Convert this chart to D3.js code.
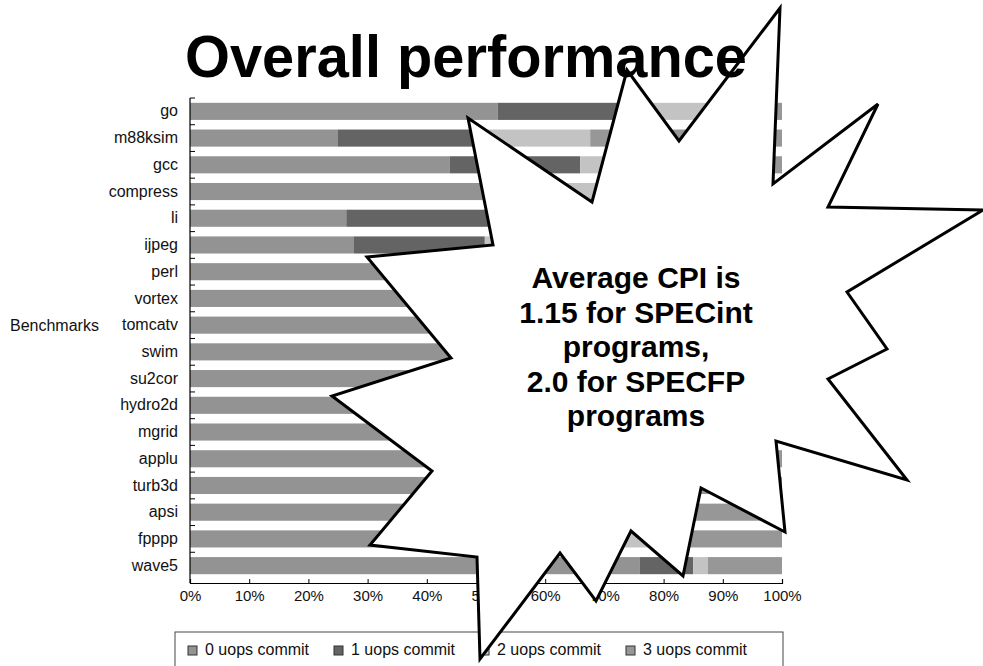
<!DOCTYPE html>
<html>
<head>
<meta charset="utf-8">
<script src="https://cdn.jsdelivr.net/npm/d3@7/dist/d3.min.js"></script>
<style>
  body { margin: 0; background: #fff; }
  svg text { font-family: "Liberation Sans", Arial, Helvetica, sans-serif; }
</style>
</head>
<body>
<div id="chart"></div>
<script>
// benchmarks, top to bottom
var categories = ["go", "m88ksim", "gcc", "compress", "li", "ijpeg", "perl", "vortex",
  "tomcatv", "swim", "su2cor", "hydro2d", "mgrid", "applu", "turb3d", "apsi", "fpppp", "wave5"];

// % of cycles with 0..3 uops committed (hidden parts under the callout are estimates)
var uops0 = [52, 25, 43.9, 59, 26.4, 27.7, 48, 52, 70, 72, 68, 70, 62, 64, 60, 62, 48, 76];
var uops1 = [22.5, 24.8, 22, 2, 25, 22.1, 20, 18, 14, 12, 15, 14, 16, 16, 16, 14, 22, 9];
var uops2 = [21.5, 17.8, 22, 25, 25, 20, 16, 15, 8, 8, 8, 8, 10, 8, 10, 8, 12, 2.5];
var uops3 = [4, 32.4, 12.1, 14, 23.6, 30.2, 16, 15, 8, 8, 9, 8, 12, 12, 14, 16, 18, 12.5];

var seriesKeys = ["u0", "u1", "u2", "u3"];
var legendLabels = ["0 uops commit", "1 uops commit", "2 uops commit", "3 uops commit"];
var xTicks = [0, 10, 20, 30, 40, 50, 60, 70, 80, 90, 100];

var calloutLines = ["Average CPI is", "1.15 for SPECint", "programs,", "2.0 for SPECFP", "programs"];
// outline of the starburst callout (page pixels)
var burst = [[780,8],[773,184],[878,104],[828,207],[983,210],[847,292],[887,349],[828,379],
  [907,480],[776,441],[785,532],[701,488],[683,576],[631,531],[596,601],[560,553],[480,659],
  [477,557],[370,545],[432,471],[332,396],[451,358],[367,257],[493,245],[468,118],[592,202],
  [627,70],[679,141]];

var colors = ["#939393", "#646464", "#c3c3c3", "#979797"];

var W = 983, H = 666;
var margin = {top: 98, right: 201, bottom: 83, left: 190},
    width = W - margin.left - margin.right,
    height = H - margin.top - margin.bottom;

var svg = d3.select("#chart").append("svg")
    .attr("width", W)
    .attr("height", H);

var data = categories.map(function(c, i) {
  return {name: c, u0: uops0[i], u1: uops1[i], u2: uops2[i], u3: uops3[i]};
});
var stacked = d3.stack().keys(seriesKeys)(data);

var x = d3.scaleLinear().domain([0, 100]).range([0, width]);
var y = d3.scaleBand().domain(categories).range([0, height - 4])
    .paddingInner(0.36).paddingOuter(0.18);

var g = svg.append("g")
    .attr("transform", "translate(" + margin.left + "," + margin.top + ")");

/// bars
g.selectAll(".series")
  .data(stacked)
  .enter().append("g")
    .attr("class", "series")
    .attr("fill", function(d, i) { return colors[i]; })
  .selectAll("rect")
  .data(function(d) { return d; })
  .enter().append("rect")
    .attr("x", function(d) { return x(d[0]); })
    .attr("width", function(d) { return x(d[1]) - x(d[0]); })
    .attr("y", function(d) { return y(d.data.name); })
    .attr("height", y.bandwidth());

/// y axis: labels, line and ticks between bars
var yAxis = g.append("g")
    .call(d3.axisLeft(y).tickSize(0).tickPadding(12));
yAxis.select(".domain").remove();
yAxis.selectAll("text")
    .attr("font-size", 16)
    .attr("fill", "#111");

g.append("line")
    .attr("x1", 0).attr("x2", 0)
    .attr("y1", 0).attr("y2", height)
    .attr("stroke", "#000").attr("stroke-width", 1.2);

var bounds = d3.range(0, categories.length).map(function(i) { return y.step() * i; });
g.selectAll(".ytick")
  .data(bounds)
  .enter().append("line")
    .attr("class", "ytick")
    .attr("x1", 0).attr("x2", 5)
    .attr("y1", function(d) { return d; })
    .attr("y2", function(d) { return d; })
    .attr("stroke", "#000");

svg.append("text")
    .attr("x", 10)
    .attr("y", margin.top + y("tomcatv") + y.bandwidth() / 2)
    .attr("dy", "0.35em")
    .attr("font-size", 16)
    .attr("fill", "#111")
    .text("Benchmarks");

/// x axis
var xAxis = g.append("g")
    .attr("transform", "translate(0," + height + ")")
    .call(d3.axisBottom(x)
      .tickValues(xTicks)
      .tickSize(-4)
      .tickPadding(7)
      .tickFormat(function(d) { return d + "%"; }));
xAxis.select(".domain").attr("stroke-width", 1.2);
xAxis.selectAll("text").attr("font-size", 15).attr("fill", "#111");

/// legend
var legend = svg.append("g").attr("class", "legend");
legend.append("rect")
    .attr("x", 175).attr("y", 632)
    .attr("width", 608).attr("height", 60)
    .attr("fill", "none")
    .attr("stroke", "#444");

var item = legend.selectAll(".item")
  .data(legendLabels)
  .enter().append("g")
    .attr("class", "item")
    .attr("transform", function(d, i) { return "translate(" + (188 + i * 146) + ",646)"; });
item.append("rect")
    .attr("width", 9).attr("height", 9)
    .attr("fill", function(d, i) { return colors[i]; })
    .attr("stroke", "#333");
item.append("text")
    .attr("x", 17)
    .attr("y", 9)
    .attr("font-size", 16)
    .attr("fill", "#111")
    .text(function(d) { return d; });

/// starburst callout
svg.append("polygon")
    .attr("points", burst.map(function(p) { return p.join(","); }).join(" "))
    .attr("fill", "#fff")
    .attr("stroke", "#000")
    .attr("stroke-width", 3)
    .attr("stroke-linejoin", "miter");

svg.append("g")
  .selectAll("text")
  .data(calloutLines)
  .enter().append("text")
    .attr("x", 636)
    .attr("y", function(d, i) { return 288 + i * 34.5; })
    .attr("text-anchor", "middle")
    .attr("font-size", 30)
    .attr("font-weight", "bold")
    .text(function(d) { return d; });

/// title
svg.append("text")
    .attr("x", 185)
    .attr("y", 77)
    .attr("font-size", 60)
    .attr("font-weight", "bold")
    .attr("textLength", 562)
    .attr("lengthAdjust", "spacingAndGlyphs")
    .text("Overall performance");
</script>
</body>
</html>
